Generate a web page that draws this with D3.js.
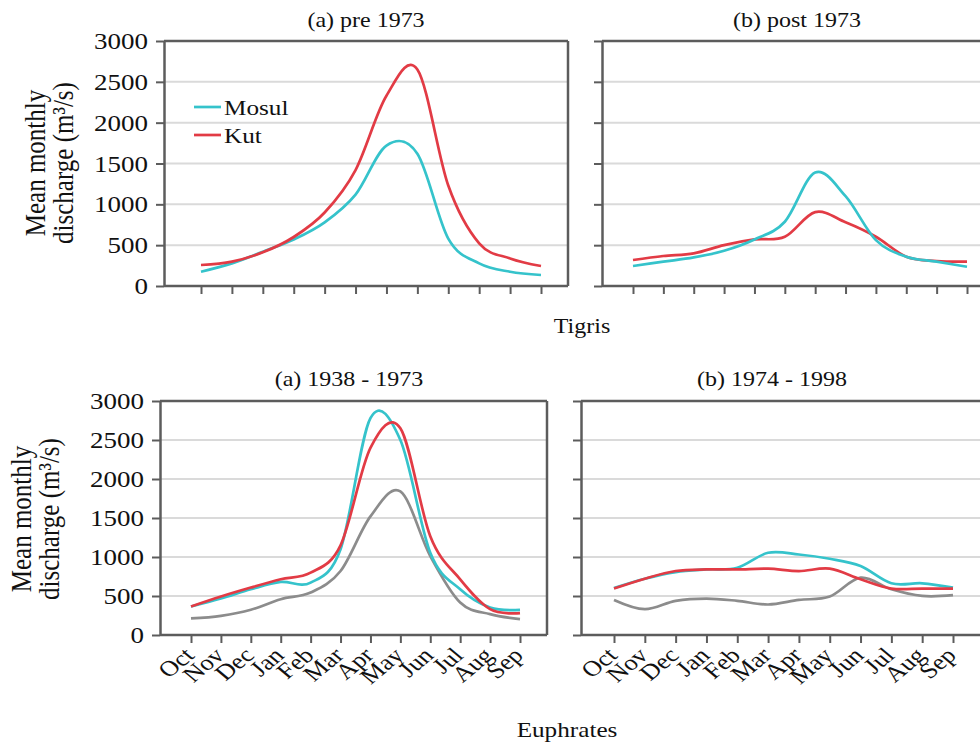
<!DOCTYPE html>
<html><head><meta charset="utf-8">
<script src="https://cdn.jsdelivr.net/npm/d3@7"></script>
<style>body{margin:0;background:#fff}svg{display:block}text{font-family:"Liberation Serif","Times New Roman",serif;fill:#111}</style>
</head><body><svg id="c" width="980" height="745"></svg>
<script>
const months = ["Oct","Nov","Dec","Jan","Feb","Mar","Apr","May","Jun","Jul","Aug","Sep"];
const yTicks = [0,500,1000,1500,2000,2500,3000];
const seriesNames = ["Mosul","Kut"];
// Tigris pre 1973
const tigPreMosul = [175,277,420,570,780,1120,1720,1620,580,277,175,135];
const tigPreKut   = [257,298,412,600,900,1420,2330,2650,1230,522,338,245];
// Tigris post 1973
const tigPostMosul = [245,298,350,432,570,787,1390,1100,562,359,298,236];
const tigPostKut   = [318,367,400,501,570,603,905,780,603,359,306,298];
// Euphrates 1938-1973
const euPreCyan = [365,467,586,680,671,1100,2780,2500,1054,586,353,323];
const euPreRed  = [365,493,608,714,799,1150,2400,2650,1266,714,331,280];
const euPreGray = [212,246,323,459,544,820,1521,1840,1011,416,268,204];
// Euphrates 1974-1998
const euPostCyan = [603,722,807,841,862,1054,1032,977,884,663,663,608];
const euPostRed  = [595,722,820,841,841,850,820,850,714,595,595,595];
const euPostGray = [450,331,438,467,438,391,450,493,735,586,501,510];

const C_CYAN="#35c3cb", C_RED="#e23b45", C_GRAY="#8c8c8c", AX="#5c5c5c", GRID="#dadada";
const SX = 1.2; // horizontal stretch of the original rendering
const svg = d3.select("#c");

function panel(o){
  const x = d3.scalePoint().domain(months).range(o.xr);
  const y = d3.scaleLinear().domain([0,3000]).range(o.yr);
  const g = svg.append("g");
  g.selectAll(".grid").data(yTicks.filter(d=>d>0&&d<3000)).join("line")
    .attr("x1",o.left).attr("x2",o.right).attr("y1",d=>y(d)).attr("y2",d=>y(d))
    .attr("stroke",GRID).attr("stroke-width",2);
  g.append("line").attr("x1",o.left).attr("x2",o.right).attr("y1",y(3000)).attr("y2",y(3000)).attr("stroke",AX).attr("stroke-width",2.5);
  if(o.rightBorder) g.append("line").attr("x1",o.right).attr("x2",o.right).attr("y1",y(3000)).attr("y2",y(0)).attr("stroke",AX).attr("stroke-width",2.5);
  const ya = d3.axisLeft(y).tickValues(yTicks).tickSize(8).tickSizeOuter(0).tickFormat("");
  const yg = g.append("g").attr("transform",`translate(${o.left},0)`).call(ya);
  yg.select(".domain").attr("stroke",AX).attr("stroke-width",2.5);
  yg.selectAll(".tick line").attr("stroke",AX).attr("stroke-width",2);
  yg.selectAll(".tick text").remove();
  if(o.yLabels){
    g.selectAll(".yl").data(yTicks).join("text")
      .attr("transform",d=>`translate(${o.left-16},${y(d)}) scale(${SX},1)`)
      .attr("text-anchor","end").attr("dy","0.36em").style("font-size","22.5px").text(d=>d);
  }
  const xa = d3.axisBottom(x).tickSize(8).tickSizeOuter(0).tickFormat("");
  const xg = g.append("g").attr("transform",`translate(0,${y(0)})`).call(xa);
  xg.select(".domain").attr("d",`M${o.left},0H${o.right}`).attr("stroke",AX).attr("stroke-width",2.5);
  xg.selectAll(".tick line").attr("stroke",AX).attr("stroke-width",2);
  xg.selectAll(".tick text").remove();
  if(o.xLabels){
    g.selectAll(".xl").data(months).join("text")
      .attr("transform",d=>`translate(${x(d)-1},${y(0)+17}) scale(${SX},1) rotate(-45)`)
      .attr("text-anchor","end").attr("dy","0.3em").style("font-size","22px").text(d=>d);
  }
  const line = d3.line().x((d,i)=>x(months[i])).y(d=>y(d)).curve(d3.curveCatmullRom.alpha(0));
  o.series.forEach(s=>{
    g.append("path").attr("d",line(s.v)).attr("fill","none").attr("stroke",s.c).attr("stroke-width",2.7);
  });
  g.append("text").attr("transform",`translate(${o.tx},${o.ty}) scale(${SX},1)`).attr("text-anchor","middle")
    .style("font-size","20px").text(o.title);
  return {x,y};
}

function yTitle(cx1,cx2,cy){
  svg.append("text").attr("transform",`translate(${cx1},${cy}) scale(${SX},1) rotate(-90)`).attr("text-anchor","middle").attr("dy","0.3em")
    .style("font-size","25px").text("Mean monthly");
  svg.append("text").attr("transform",`translate(${cx2},${cy}) scale(${SX},1) rotate(-90)`).attr("text-anchor","middle").attr("dy","0.3em")
    .style("font-size","25px").text("discharge (m³/s)");
}

panel({xr:[201,541],yr:[286,41],left:164,right:568,rightBorder:true,yLabels:true,xLabels:false,
  title:"(a) pre 1973",tx:366,ty:27,series:[{v:tigPreMosul,c:C_CYAN},{v:tigPreKut,c:C_RED}]});
panel({xr:[633,967],yr:[286,41],left:602,right:980,rightBorder:false,yLabels:false,xLabels:false,
  title:"(b) post 1973",tx:797,ty:27,series:[{v:tigPostKut,c:C_RED},{v:tigPostMosul,c:C_CYAN}]});
panel({xr:[191,520],yr:[635,401],left:160,right:547,rightBorder:true,yLabels:true,xLabels:true,
  title:"(a) 1938 - 1973",tx:349,ty:386,series:[{v:euPreGray,c:C_GRAY},{v:euPreCyan,c:C_CYAN},{v:euPreRed,c:C_RED}]});
panel({xr:[614,953],yr:[635,401],left:581,right:980,rightBorder:false,yLabels:false,xLabels:true,
  title:"(b) 1974 - 1998",tx:772,ty:386,series:[{v:euPostGray,c:C_GRAY},{v:euPostCyan,c:C_CYAN},{v:euPostRed,c:C_RED}]});

yTitle(36,64,163);
yTitle(22,50,519);

const leg = svg.append("g");
seriesNames.forEach((n,i)=>{
  const c = i===0?C_CYAN:C_RED, yy = 107+i*28;
  leg.append("line").attr("x1",194).attr("x2",221).attr("y1",yy).attr("y2",yy).attr("stroke",c).attr("stroke-width",2.7);
  leg.append("text").attr("transform",`translate(224,${yy}) scale(${SX},1)`).attr("dy","0.36em").style("font-size","21px").text(n);
});

svg.append("text").attr("transform",`translate(582,333) scale(${SX},1)`).attr("text-anchor","middle").style("font-size","20px").text("Tigris");
svg.append("text").attr("transform",`translate(567,737) scale(${SX},1)`).attr("text-anchor","middle").style("font-size","21px").text("Euphrates");
</script></body></html>
